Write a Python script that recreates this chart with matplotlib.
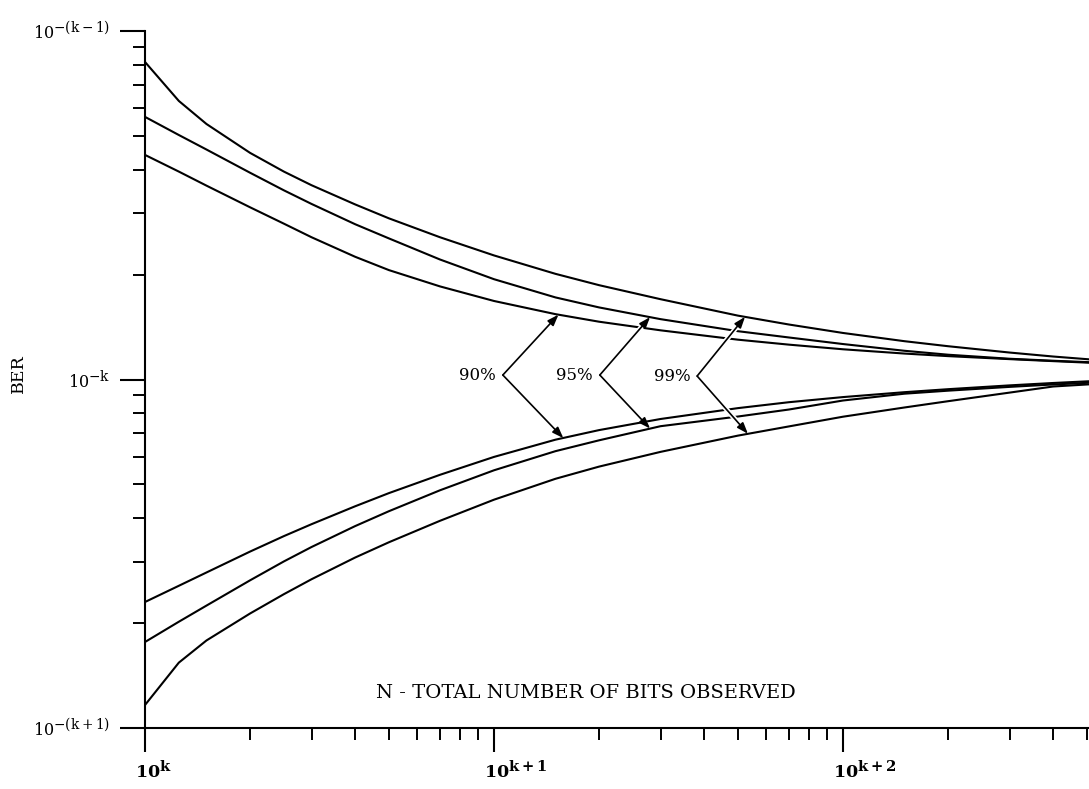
import numpy as np
import matplotlib
matplotlib.use("Agg")
import matplotlib.pyplot as plt
from matplotlib.ticker import FixedLocator, LogLocator, NullFormatter
from matplotlib.transforms import ScaledTranslation

try:  # larger superscripts, closer to the typeset look of the original
    import matplotlib._mathtext as _mt
    _mt.SHRINK_FACTOR = 0.85
except Exception:
    pass

# ---------------- data (N in units of 10^k, BER in units of 10^-k) ----------------
N_GRID = [1, 1.25, 1.5, 2, 2.5, 3, 4, 5, 7, 10, 15, 20, 30, 50, 70, 100, 150, 200, 300, 400, 510]

upper_99 = [8.15, 6.30, 5.41, 4.47, 3.95, 3.61, 3.18, 2.90, 2.56, 2.27, 2.01, 1.865, 1.70,
            1.525, 1.438, 1.360, 1.288, 1.246, 1.195, 1.164, 1.142]
upper_95 = [5.67, 5.03, 4.57, 3.92, 3.49, 3.19, 2.79, 2.54, 2.21, 1.94, 1.72, 1.61, 1.49,
            1.376, 1.320, 1.264, 1.209, 1.178, 1.147, 1.132, 1.121]
upper_90 = [4.41, 3.95, 3.60, 3.12, 2.80, 2.56, 2.25, 2.06, 1.85, 1.68, 1.54, 1.465, 1.384,
            1.301, 1.259, 1.221, 1.187, 1.167, 1.144, 1.129, 1.117]
lower_90 = [0.2299, 0.2559, 0.2794, 0.3208, 0.3553, 0.3844, 0.4327, 0.4721, 0.5327, 0.5996,
            0.6719, 0.7158, 0.7703, 0.8277, 0.8607, 0.8903, 0.9196, 0.9380, 0.9619, 0.9772, 0.9888]
lower_95 = [0.1765, 0.2018, 0.2245, 0.2653, 0.3006, 0.3306, 0.3796, 0.4189, 0.4809, 0.5489,
            0.6228, 0.6691, 0.7345, 0.7830, 0.8201, 0.8704, 0.9105, 0.9288, 0.9524, 0.9675, 0.9791]
lower_99 = [0.1164, 0.1540, 0.1783, 0.2131, 0.2421, 0.2672, 0.3084, 0.3412, 0.3931, 0.4520,
            0.5189, 0.5624, 0.6199, 0.6902, 0.7335, 0.7821, 0.8312, 0.8664, 0.9170, 0.9548, 0.9688]

CURVES = [upper_99, upper_95, upper_90, lower_90, lower_95, lower_99]

# confidence labels: (text, vertex (N, BER), upper tip, lower tip)
CONF_LABELS = ["90%", "95%", "99%"]
VERTEX = [(10.6, 1.03), (20.1, 1.03), (38.2, 1.023)]
UPPER_TIP = [(15.3, 1.535), (28.0, 1.51), (52.4, 1.513)]
LOWER_TIP = [(15.8, 0.679), (28.0, 0.7234), (53.4, 0.6987)]

X_TICKS = [1, 10, 100]
X_LABELS = [r"$\mathbf{10^{k}}$", r"$\mathbf{10^{k+1}}$", r"$\mathbf{10^{k+2}}$"]
Y_TICKS = [0.1, 1, 10]
Y_LABELS = [r"$10^{-(\mathrm{k}+1)}$", r"$10^{-\mathrm{k}}$", r"$10^{-(\mathrm{k}-1)}$"]

X_TITLE = "N - TOTAL NUMBER OF BITS OBSERVED"
Y_TITLE = "BER"

# ---------------- figure ----------------
plt.rcParams["mathtext.fontset"] = "dejavuserif"
plt.rcParams["font.family"] = ["DejaVu Serif"]

W, H = 1089, 789
fig = plt.figure(figsize=(W / 100, H / 100), dpi=100)
fig.patch.set_facecolor("white")
ax = fig.add_axes([145 / W, 61 / H, 944 / W, 697 / H])
ax.set_xscale("log")
ax.set_yscale("log")
ax.set_xlim(1, 10 ** (944 / 349))
ax.set_ylim(0.1, 10)

for ys in CURVES:
    ax.plot(N_GRID, ys, color="black", lw=1.5, zorder=2, solid_joinstyle="round")

# spines
for s in ["top", "right"]:
    ax.spines[s].set_visible(False)
for s in ["left", "bottom"]:
    ax.spines[s].set_linewidth(1.5)
    ax.spines[s].set_color("black")

# ticks
ax.xaxis.set_major_locator(FixedLocator(X_TICKS))
ax.xaxis.set_minor_locator(LogLocator(base=10, subs=np.arange(2, 10), numticks=50))
ax.xaxis.set_minor_formatter(NullFormatter())
ax.set_xticklabels(X_LABELS, fontsize=12.5)
ax.yaxis.set_major_locator(FixedLocator(Y_TICKS))
ax.yaxis.set_minor_locator(LogLocator(base=10, subs=np.arange(2, 10), numticks=50))
ax.yaxis.set_minor_formatter(NullFormatter())
ax.set_yticklabels(Y_LABELS, fontsize=11.5)

ax.tick_params(axis="x", which="major", direction="out", length=17.5, width=1.5, pad=6)
ax.tick_params(axis="x", which="minor", direction="out", length=8.5, width=1.4)
ax.tick_params(axis="y", which="major", direction="out", length=18, width=1.5, pad=7)
ax.tick_params(axis="y", which="minor", direction="out", length=9, width=1.4)

shift = ScaledTranslation(-10 / 100, 0, fig.dpi_scale_trans)
for lbl in ax.get_xticklabels():
    lbl.set_horizontalalignment("left")
    lbl.set_transform(lbl.get_transform() + shift)

# arrows: white gaps first, then black arrows
for i in range(len(CONF_LABELS)):
    for tip in (UPPER_TIP[i], LOWER_TIP[i]):
        ax.annotate("", xy=tip, xytext=VERTEX[i], zorder=3,
                    arrowprops=dict(arrowstyle="-", color="white", lw=3.6,
                                    shrinkA=0, shrinkB=5))
for i in range(len(CONF_LABELS)):
    for tip in (UPPER_TIP[i], LOWER_TIP[i]):
        ax.annotate("", xy=tip, xytext=VERTEX[i], zorder=4,
                    arrowprops=dict(arrowstyle="-|>,head_length=0.55,head_width=0.2",
                                    color="black", lw=1.2, shrinkA=0, shrinkB=0,
                                    mutation_scale=12))
    ax.annotate(CONF_LABELS[i], xy=VERTEX[i], xytext=(-5, 0), textcoords="offset points",
                ha="right", va="center", fontsize=12, zorder=5)

# titles
fig.text(586 / W, 1 - 693 / H, X_TITLE, ha="center", va="center", fontsize=14)
fig.text(18 / W, 1 - 374 / H, Y_TITLE, ha="center", va="center", rotation=90, fontsize=12.5)

fig.savefig("out.png", dpi=100, facecolor="white")
